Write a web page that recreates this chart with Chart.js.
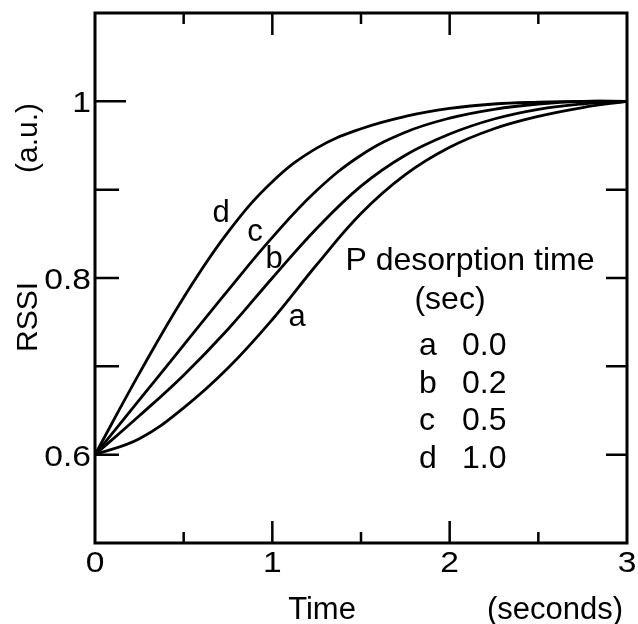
<!DOCTYPE html>
<html>
<head>
<meta charset="utf-8">
<script src="https://cdn.jsdelivr.net/npm/chart.js@4.4.1/dist/chart.umd.min.js"></script>
<style>
  body { margin: 0; background: #fff; }
  #wrap { width: 638px; height: 624px; }
</style>
</head>
<body>
<div id="wrap"><canvas id="rssiChart"></canvas></div>
<script>
// Time axis (seconds) and RSSI values
const times = [0, 0.25, 0.5, 0.75, 1.0, 1.25, 1.5, 1.75, 2.0, 2.25, 2.5, 2.75, 3.0];
const rssiA = [0.600, 0.618, 0.653, 0.698, 0.753, 0.815, 0.873, 0.917, 0.948, 0.969, 0.983, 0.993, 1.000];
const rssiB = [0.600, 0.644, 0.690, 0.742, 0.800, 0.856, 0.904, 0.939, 0.963, 0.980, 0.991, 0.997, 1.000];
const rssiC = [0.600, 0.662, 0.724, 0.786, 0.846, 0.899, 0.939, 0.965, 0.981, 0.991, 0.997, 1.000, 1.000];
const rssiD = [0.600, 0.692, 0.778, 0.852, 0.909, 0.947, 0.969, 0.983, 0.992, 0.997, 0.999, 1.000, 1.000];

const curveNames = ['a', 'b', 'c', 'd'];
const desorptionTimes = ['0.0', '0.2', '0.5', '1.0'];

const xTicks = [0, 0.5, 1, 1.5, 2, 2.5, 3];
const xTickLabels = ['0', '', '1', '', '2', '', '3'];
const yTicks = [0.6, 0.7, 0.8, 0.9, 1.0];
const yTickLabels = ['0.6', '', '0.8', '', '1'];

const FONT = '"Liberation Sans", Arial, Helvetica, sans-serif';

function toPoints(ys) {
    return times.map((t, i) => ({ x: t, y: ys[i] }));
}

function drawText(ctx, str, x, y, align, size, sx) {
    ctx.save();
    ctx.translate(x, y);
    ctx.scale(sx || 1, 1);
    ctx.font = size + 'px ' + FONT;
    ctx.textAlign = align;
    ctx.textBaseline = 'alphabetic';
    ctx.fillStyle = '#000';
    ctx.fillText(str, 0, 0);
    ctx.restore();
}

// frame, inward ticks and all the text
const framePlugin = {
    id: 'framePlugin',
    afterDatasetsDraw(chart) {
        const ctx = chart.ctx;
        const a = chart.chartArea;
        const xs = chart.scales.x, ys = chart.scales.y;

        ctx.save();
        ctx.strokeStyle = '#000';
        ctx.lineWidth = 3;
        ctx.strokeRect(a.left, a.top, a.right - a.left, a.bottom - a.top);

        ctx.lineWidth = 2.5;
        ctx.beginPath();
        xTicks.forEach((v, i) => {
            if (v === 0 || v === 3) return;
            const px = xs.getPixelForValue(v);
            const len = xTickLabels[i] ? 22 : 11;
            ctx.moveTo(px, a.bottom); ctx.lineTo(px, a.bottom - len);
            ctx.moveTo(px, a.top); ctx.lineTo(px, a.top + len);
        });
        yTicks.forEach(v => {
            const py = ys.getPixelForValue(v);
            const len = v === 1.0 ? 31 : 24;
            ctx.moveTo(a.left, py); ctx.lineTo(a.left + len, py);
            ctx.moveTo(a.right, py); ctx.lineTo(a.right - 21, py);
        });
        ctx.stroke();
        ctx.restore();
    },
    afterDraw(chart) {
        const ctx = chart.ctx;
        const a = chart.chartArea;
        const xs = chart.scales.x, ys = chart.scales.y;

        // tick labels
        xTicks.forEach((v, i) => {
            if (!xTickLabels[i]) return;
            drawText(ctx, xTickLabels[i], xs.getPixelForValue(v), a.bottom + 29, 'center', 30, 1.12);
        });
        yTicks.forEach((v, i) => {
            if (!yTickLabels[i]) return;
            drawText(ctx, yTickLabels[i], a.left - 4, ys.getPixelForValue(v) + 11, 'right', 30, 1.12);
        });

        // axis titles
        ctx.save();
        ctx.translate(37, 317);
        ctx.rotate(-Math.PI / 2);
        drawText(ctx, 'RSSI', 0, 0, 'center', 30);
        ctx.restore();
        ctx.save();
        ctx.translate(37, 138);
        ctx.rotate(-Math.PI / 2);
        drawText(ctx, '(a.u.)', 0, 0, 'center', 30);
        ctx.restore();
        drawText(ctx, 'Time', 322, 619, 'center', 31);
        drawText(ctx, '(seconds)', 555, 619, 'center', 31);

        // curve labels
        const labelAt = { a: [297, 326], b: [274, 268], c: [255, 241], d: [221, 222] };
        curveNames.forEach(n => drawText(ctx, n, labelAt[n][0], labelAt[n][1], 'center', 31));

        // key
        drawText(ctx, 'P desorption time', 470, 270, 'center', 32);
        drawText(ctx, '(sec)', 450, 309, 'center', 32);
        curveNames.forEach((n, i) => {
            const by = 355 + i * 37.7;
            drawText(ctx, n, 419, by, 'left', 32);
            drawText(ctx, desorptionTimes[i], 462, by, 'left', 32);
        });
    }
};

const lineStyle = {
    borderColor: '#000',
    borderWidth: 2.8,
    pointRadius: 0,
    fill: false,
    tension: 0.4
};

new Chart(document.getElementById('rssiChart'), {
    type: 'line',
    data: {
        datasets: [
            Object.assign({ label: 'a', data: toPoints(rssiA) }, lineStyle),
            Object.assign({ label: 'b', data: toPoints(rssiB) }, lineStyle),
            Object.assign({ label: 'c', data: toPoints(rssiC) }, lineStyle),
            Object.assign({ label: 'd', data: toPoints(rssiD) }, lineStyle)
        ]
    },
    options: {
        responsive: true,
        maintainAspectRatio: false,
        animation: false,
        devicePixelRatio: 1,
        layout: { padding: { left: 95, top: 13, right: 11, bottom: 81 } },
        plugins: { legend: { display: false }, tooltip: { enabled: false } },
        scales: {
            x: { type: 'linear', min: 0, max: 3, display: false },
            y: { type: 'linear', min: 0.5, max: 1.1, display: false }
        }
    },
    plugins: [framePlugin]
});
</script>
</body>
</html>
